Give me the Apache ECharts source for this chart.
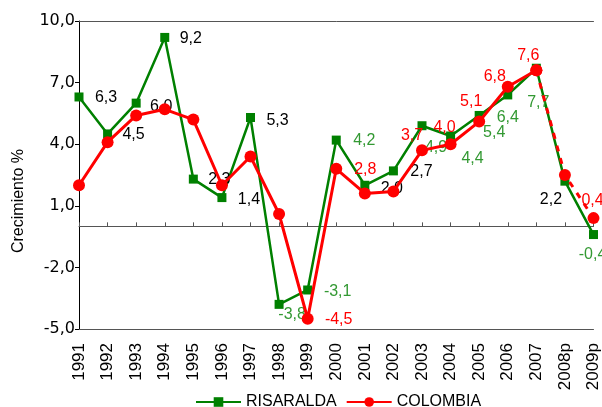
<!DOCTYPE html>
<html>
<head>
<meta charset="utf-8">
<script src="https://cdn.jsdelivr.net/npm/echarts@6/dist/echarts.min.js"></script>
<style>
  html, body { margin: 0; padding: 0; background: #fff; }
  #chart { width: 602px; height: 407px; }
</style>
</head>
<body>
<div id="chart"></div>
<script>
const years = ['1991', '1992', '1993', '1994', '1995', '1996', '1997', '1998', '1999', '2000',
  '2001', '2002', '2003', '2004', '2005', '2006', '2007', '2008p', '2009p'];
const risaralda = [6.3, 4.5, 6.0, 9.2, 2.3, 1.4, 5.3, -3.8, -3.1, 4.2, 2.0, 2.7, 4.9, 4.4, 5.4, 6.4, 7.7, 2.2, -0.4];
const colombia = [2.0, 4.1, 5.4, 5.7, 5.2, 2.0, 3.4, 0.6, -4.5, 2.8, 1.6, 1.7, 3.7, 4.0, 5.1, 6.8, 7.6, 2.5, 0.4];
const yTicks = [-5, -2, 1, 4, 7, 10];

// where each value label sits, relative to its point
const risLabelOffset = [[27, 1], [26, 1], [25, 3], [26, 1], [26, 0], [27, 2], [27, 3], [13, 10], [30, 2],
  [28, 1], [27, 3], [28, 1], [14, 22], [22, 23], [15, 17], [0, 23], [2, 34], [-14, 18], [-1, 20]];
const risLabelColor = ['#000', '#000', '#000', '#000', '#000', '#000', '#000', '#339933', '#339933',
  '#339933', '#000', '#000', '#339933', '#339933', '#339933', '#339933', '#339933', '#000', '#339933'];
const colLabelOffset = [null, null, null, null, null, null, null, null, [31, 1],
  [29, 1], null, null, [-10, -15], [-6, -17], [-8, -20], [-13, -10], [-8, -15], null, [-1, -18]];

const green = '#008000';
const red = '#ff0000';
const fmt = v => v.toFixed(1).replace('.', ',');
const font = 'Liberation Sans, Arial, sans-serif';

const risData = risaralda.map((v, i) => ({
  value: v,
  label: { offset: risLabelOffset[i], color: risLabelColor[i] }
}));
const colSolid = colombia.map((v, i) => {
  if (i > 16) return '-';
  return { value: v, label: { show: colLabelOffset[i] != null, offset: colLabelOffset[i] || [0, 0] } };
});
const colDashed = colombia.map((v, i) => {
  if (i < 16) return '-';
  return { value: v, label: { show: i > 16 && colLabelOffset[i] != null, offset: colLabelOffset[i] || [0, 0] } };
});

const chart = echarts.init(document.getElementById('chart'));
chart.setOption({
  animation: false,
  backgroundColor: '#fff',
  textStyle: { fontFamily: font },
  grid: { left: 79, top: 21, width: 520, height: 308, containLabel: false },
  legend: {
    data: ['RISARALDA', 'COLOMBIA'],
    left: 190,
    top: 389,
    itemWidth: 45,
    itemHeight: 12,
    itemGap: 9,
    textStyle: { fontSize: 16, color: '#000', fontFamily: font }
  },
  graphic: [{
    type: 'text',
    x: 19,
    y: 201,
    rotation: Math.PI / 2,
    style: {
      text: 'Crecimiento %',
      fontSize: 16,
      fontFamily: font,
      fill: '#000',
      align: 'center',
      verticalAlign: 'middle'
    }
  }],
  xAxis: [
    {
      type: 'category',
      data: years,
      boundaryGap: false,
      position: 'bottom',
      axisLine: { onZero: false, lineStyle: { color: '#555', width: 1 } },
      axisTick: { show: false },
      axisLabel: { interval: 0, rotate: 90, fontSize: 17, color: '#000', margin: 14, fontFamily: font },
      splitLine: { show: false }
    },
    {
      type: 'category',
      data: years,
      boundaryGap: false,
      position: 'bottom',
      axisLine: { onZero: true, lineStyle: { color: '#555', width: 1 } },
      axisTick: { show: true, inside: true, length: 4, interval: 0, lineStyle: { color: '#555' } },
      axisLabel: { show: false },
      splitLine: { show: false }
    },
    {
      type: 'category',
      data: years,
      boundaryGap: false,
      position: 'top',
      axisLine: { onZero: false, lineStyle: { color: '#555', width: 1 } },
      axisTick: { show: false },
      axisLabel: { show: false },
      splitLine: { show: false }
    }
  ],
  yAxis: {
    type: 'value',
    min: yTicks[0],
    max: yTicks[yTicks.length - 1],
    interval: 3,
    axisLine: { show: true, lineStyle: { color: '#000', width: 1 } },
    axisTick: { show: true, length: 4, lineStyle: { color: '#000' } },
    axisLabel: { formatter: fmt, fontSize: 16, color: '#000', margin: 4, fontFamily: 'DejaVu Sans' },
    splitLine: { show: false }
  },
  series: [
    {
      name: 'RISARALDA',
      type: 'line',
      data: risData,
      symbol: 'rect',
      symbolSize: 9,
      itemStyle: { color: green },
      lineStyle: { color: green, width: 2.5 },
      label: {
        show: true,
        position: 'inside',
        fontSize: 16,
        fontFamily: font,
        formatter: p => fmt(p.value)
      },
      z: 2
    },
    {
      name: 'COLOMBIA',
      type: 'line',
      data: colSolid,
      symbol: 'circle',
      symbolSize: 12,
      itemStyle: { color: red },
      lineStyle: { color: red, width: 3 },
      label: {
        position: 'inside',
        fontSize: 16,
        fontFamily: font,
        color: red,
        formatter: p => fmt(p.value)
      },
      z: 3
    },
    {
      name: 'COLOMBIA',
      type: 'line',
      data: colDashed,
      symbol: 'circle',
      symbolSize: 12,
      itemStyle: { color: red },
      lineStyle: { color: red, width: 3, type: [6, 7] },
      label: {
        position: 'inside',
        fontSize: 16,
        fontFamily: font,
        color: red,
        formatter: p => fmt(p.value)
      },
      z: 3
    }
  ]
});
</script>
</body>
</html>
